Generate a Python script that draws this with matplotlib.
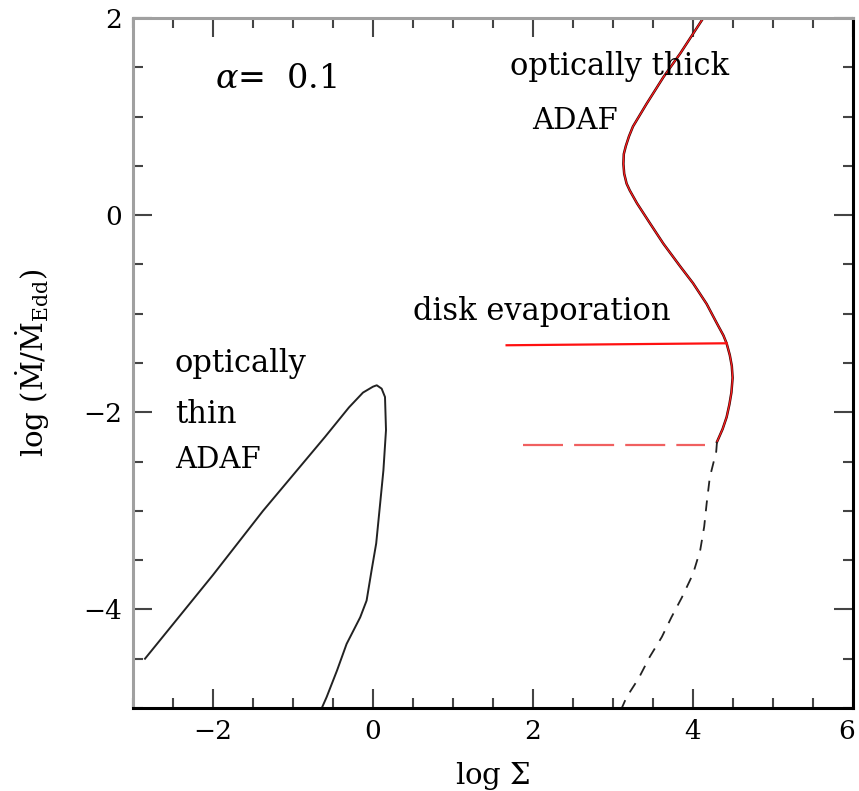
import matplotlib
matplotlib.use("Agg")
import matplotlib.pyplot as plt
from matplotlib.ticker import MultipleLocator
from matplotlib.transforms import ScaledTranslation

plt.rcParams['font.family'] = ['DejaVu Serif']
plt.rcParams['mathtext.fontset'] = 'dejavuserif'

# optically thin ADAF branch
thin_x = [-2.85, -2.0, -1.375, -0.6, -0.3, -0.125, 0.0, 0.047, 0.108, 0.15, 0.1625,
          0.13, 0.09, 0.04, -0.017, -0.08, -0.16, -0.33, -0.45, -0.58, -0.64]
thin_y = [-4.5, -3.65, -3.0, -2.25, -1.95, -1.80, -1.74, -1.726, -1.76, -1.845, -2.18,
          -2.59, -2.92, -3.33, -3.60, -3.91, -4.08, -4.35, -4.62, -4.89, -5.0]

# optically thick ADAF branch (solid upper part)
thick_x = [4.129, 3.84, 3.63, 3.42, 3.25, 3.20, 3.16, 3.135, 3.13, 3.14, 3.17, 3.21,
           3.30, 3.46, 3.63, 3.84, 4.00, 4.17, 4.30, 4.38, 4.42, 4.46, 4.485, 4.495,
           4.48, 4.455, 4.42, 4.37, 4.30]
thick_y = [2.0, 1.64, 1.40, 1.13, 0.90, 0.80, 0.70, 0.62, 0.52, 0.42, 0.32, 0.25,
           0.12, -0.08, -0.29, -0.52, -0.69, -0.90, -1.10, -1.22, -1.30, -1.42, -1.53, -1.65,
           -1.80, -1.92, -2.05, -2.17, -2.30]

# lower dashed branch
low_x = [4.30, 4.29, 4.21, 4.17, 4.14, 4.09, 4.00, 3.86, 3.73, 3.61, 3.46, 3.32, 3.17, 3.11]
low_y = [-2.30, -2.40, -2.66, -2.93, -3.16, -3.40, -3.64, -3.88, -4.08, -4.28, -4.48, -4.70, -4.89, -5.0]

# disk evaporation lines
evap_solid_x = [1.67, 4.42]
evap_solid_y = [-1.32, -1.30]
evap_dash_x = [1.88, 4.15]
evap_dash_y = [-2.335, -2.335]

fig = plt.figure(figsize=(8.59, 7.91), dpi=100)
ax = fig.add_axes([133/859, 1-708/791, 720/859, 690/791])

ax.plot(thin_x, thin_y, color='#222222', lw=1.4)
ax.plot(thick_x, thick_y, color='#3a0000', lw=1.8)
ax.plot(thick_x, thick_y, color='#ff2020', lw=0.9)
ax.plot(low_x, low_y, color='#222222', lw=1.3, dashes=(6, 5))
ax.plot(evap_solid_x, evap_solid_y, color='#ff1010', lw=1.6)
ax.plot(evap_dash_x, evap_dash_y, color='#f06060', lw=1.6, dashes=(18, 5))

ax.set_xlim(-3, 6)
ax.set_ylim(-5, 2)
ax.xaxis.set_major_locator(MultipleLocator(2))
ax.xaxis.set_minor_locator(MultipleLocator(0.5))
ax.yaxis.set_major_locator(MultipleLocator(2))
ax.yaxis.set_minor_locator(MultipleLocator(0.5))
ax.tick_params(which='both', direction='in', top=True, right=True, color='#444444',
               width=1.5, labelsize=19)
ax.tick_params(which='major', length=14, pad=8)
ax.tick_params(which='minor', length=7)
for s in ['left', 'top']:
    ax.spines[s].set_color('#a0a0a0')
for s in ['bottom', 'right']:
    ax.spines[s].set_color('#000000')
for s in ax.spines.values():
    s.set_linewidth(2.2)

ax.set_xlabel(r'log $\Sigma$', fontsize=21)
ax.xaxis.set_label_coords(0.5, -0.076)
ax.set_ylabel(r'log $(\dot{\rm M}/\dot{\rm M}_{\rm Edd})$', fontsize=21)
ax.yaxis.set_label_coords(-0.112, 0.5)

fs = 22
ax.text(-1.975, 1.289, r'$\alpha$=  0.1', fontsize=24, va='baseline')
ax.text(1.71, 1.42, 'optically thick', fontsize=fs, va='baseline')
ax.text(1.99, 0.873, 'ADAF', fontsize=21, va='baseline')
ax.text(0.5, -1.066, 'disk evaporation', fontsize=fs, va='baseline')
ax.text(-2.475, -1.594, 'optically', fontsize=fs, va='baseline')
ax.text(-2.475, -2.112, 'thin', fontsize=fs, va='baseline')
ax.text(-2.475, -2.569, 'ADAF', fontsize=21, va='baseline')

# keep the "6" tick label inside the figure
fig.canvas.draw()
locs = list(ax.xaxis.get_majorticklocs())
ticks = ax.xaxis.get_major_ticks(len(locs))
for loc, tk in zip(locs, ticks):
    if abs(loc - 6) < 1e-9:
        orig = tk.label1.get_transform()
        tk.label1.set_transform(orig + ScaledTranslation(-6/100, 0, fig.dpi_scale_trans))

fig.savefig('out.png', dpi=100)
